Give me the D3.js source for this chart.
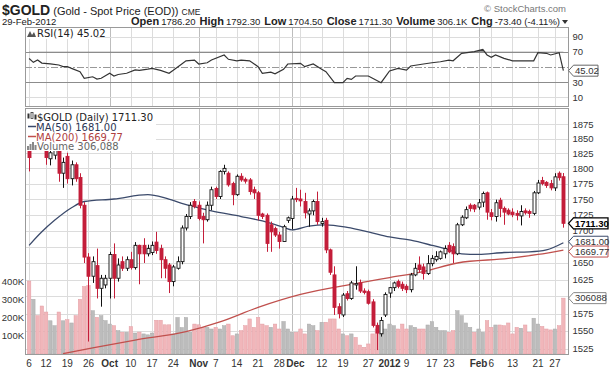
<!DOCTYPE html>
<html><head><meta charset="utf-8">
<script src="https://cdn.jsdelivr.net/npm/d3@7"></script>
<style>body{margin:0;background:#fff}svg{display:block}</style>
</head><body><svg id="c" width="610" height="370"></svg>
<script>
// ---------------- DATA ----------------
const dates = ["2011-09-06","2011-09-07","2011-09-08","2011-09-09","2011-09-12","2011-09-13","2011-09-14","2011-09-15","2011-09-16","2011-09-19","2011-09-20","2011-09-21","2011-09-22","2011-09-23","2011-09-26","2011-09-27","2011-09-28","2011-09-29","2011-09-30",
"2011-10-03","2011-10-04","2011-10-05","2011-10-06","2011-10-07","2011-10-10","2011-10-11","2011-10-12","2011-10-13","2011-10-14","2011-10-17","2011-10-18","2011-10-19","2011-10-20","2011-10-21","2011-10-24","2011-10-25","2011-10-26","2011-10-27","2011-10-28","2011-10-31",
"2011-11-01","2011-11-02","2011-11-03","2011-11-04","2011-11-07","2011-11-08","2011-11-09","2011-11-10","2011-11-11","2011-11-14","2011-11-15","2011-11-16","2011-11-17","2011-11-18","2011-11-21","2011-11-22","2011-11-23","2011-11-24","2011-11-25","2011-11-28","2011-11-29","2011-11-30",
"2011-12-01","2011-12-02","2011-12-05","2011-12-06","2011-12-07","2011-12-08","2011-12-09","2011-12-12","2011-12-13","2011-12-14","2011-12-15","2011-12-16","2011-12-19","2011-12-20","2011-12-21","2011-12-22","2011-12-23","2011-12-26","2011-12-27","2011-12-28","2011-12-29","2011-12-30",
"2012-01-02","2012-01-03","2012-01-04","2012-01-05","2012-01-06","2012-01-09","2012-01-10","2012-01-11","2012-01-12","2012-01-13","2012-01-16","2012-01-17","2012-01-18","2012-01-19","2012-01-20","2012-01-23","2012-01-24","2012-01-25","2012-01-26","2012-01-27","2012-01-30","2012-01-31",
"2012-02-01","2012-02-02","2012-02-03","2012-02-06","2012-02-07","2012-02-08","2012-02-09","2012-02-10","2012-02-13","2012-02-14","2012-02-15","2012-02-16","2012-02-17","2012-02-20","2012-02-21","2012-02-22","2012-02-23","2012-02-24","2012-02-27","2012-02-28","2012-02-29"];

const open = [1870,1835,1860,1855,1848,1816,1822,1830,1792,1820,1783,1806,1785,1740,1659,1630,1646,1612,1617,
1627,1663,1627,1652,1642,1655,1643,1677,1677,1664,1666,1682,1672,1655,1647,1622,1642,1652,1704,1722,1746,
1740,1722,1717,1740,1767,1754,1795,1792,1775,1757,1787,1782,1781,1765,1760,1726,1724,1709,1703,1693,1683,1716,
1719,1751,1750,1746,1726,1731,1746,1711,1716,1670,1632,1585,1573,1604,1597,1617,1620,1608,1607,1592,1558,1546,
1573,1605,1613,1622,1618,1615,1610,1632,1647,1644,1634,1649,1655,1657,1664,1677,1675,1664,1709,1720,1740,1740,
1737,1745,1760,1728,1722,1748,1735,1732,1729,1727,1723,1731,1730,1727,1760,1780,1777,1775,1768,1792,1786.2];
const high = [1900,1868,1880,1865,1858,1840,1845,1836,1818,1826,1813,1810,1792,1745,1665,1660,1672,1632,1632,
1667,1680,1657,1660,1660,1667,1682,1678,1688,1678,1683,1698,1678,1660,1650,1647,1660,1708,1726,1745,1750,
1746,1728,1746,1770,1770,1797,1806,1795,1778,1790,1792,1785,1784,1770,1763,1728,1727,1714,1706,1698,1709,1722,
1755,1768,1765,1760,1735,1749,1762,1720,1720,1672,1645,1590,1605,1608,1623,1645,1625,1612,1610,1596,1562,1570,
1606,1614,1622,1625,1622,1618,1635,1650,1660,1649,1662,1662,1668,1669,1677,1682,1680,1712,1724,1738,1743,1742,
1750,1762,1762,1734,1749,1752,1738,1735,1735,1732,1740,1735,1733,1763,1781,1786,1779,1781,1792,1795,1792.3];
const low = [1795,1833,1838,1835,1806,1805,1815,1778,1768,1775,1772,1778,1735,1650,1535,1620,1597,1585,1612,
1597,1597,1622,1638,1638,1640,1640,1618,1650,1660,1662,1664,1627,1627,1605,1615,1640,1648,1700,1718,1735,
1716,1680,1714,1732,1750,1750,1790,1770,1740,1755,1778,1775,1757,1750,1716,1718,1667,1667,1690,1672,1683,1712,
1702,1745,1738,1719,1706,1724,1709,1706,1665,1632,1573,1568,1570,1594,1595,1610,1605,1603,1588,1555,1523,1542,
1570,1598,1608,1612,1608,1605,1606,1630,1635,1625,1632,1645,1652,1655,1657,1665,1650,1662,1707,1718,1730,1729,
1733,1737,1717,1716,1714,1721,1709,1724,1721,1716,1708,1725,1720,1724,1758,1772,1768,1764,1763,1780,1704.5];
const close = [1818,1860,1855,1845,1818,1826,1832,1792,1810,1783,1806,1783,1740,1659,1630,1652,1612,1627,1627,
1663,1627,1647,1642,1655,1643,1677,1664,1664,1672,1677,1669,1655,1642,1622,1644,1652,1704,1722,1740,1738,
1719,1717,1740,1765,1754,1795,1800,1773,1757,1787,1781,1779,1762,1760,1724,1722,1680,1698,1693,1683,1706,1720,
1750,1749,1747,1728,1731,1746,1714,1714,1670,1636,1584,1575,1602,1597,1620,1619,1608,1606,1590,1558,1547,1565,
1603,1613,1620,1615,1612,1610,1632,1642,1640,1634,1649,1657,1660,1667,1672,1667,1664,1709,1721,1733,1735,1734,
1744,1759,1729,1722,1744,1735,1729,1726,1725,1724,1730,1728,1727,1760,1776,1775,1772,1768,1786,1784.7,1711.3];
// volume in thousands
const volumeK = [400,300,210,263,230,182,155,230,182,188,170,210,300,370,375,
237,201,210,183,164,155,128,119,119,150,115,120,110,105,115,185,185,160,160,110,200,145,200,
119,164,160,146,146,137,146,137,155,164,100,110,128,155,192,146,201,164,155,146,164,137,178,137,119,119,137,110,164,155,128,174,174,192,192,137,110,100,110,91,49,37,55,110,137,110,137,164,155,137,
164,137,155,146,137,137,159,177,146,128,128,119,128,237,210,170,146,119,137,119,183,146,159,159,155,170,110,146,141,159,119,196,164,151,137,132,137,155,306.088];

const ma50Idx = [0,3,6,10,13,20,28,32,36,43,50,55,60,62,66,70,75,80,85,90,95,99,102,106,112,118,122,126];
const ma50Val = [1677,1698,1716,1736,1746,1750,1757,1752,1743,1731,1722,1715,1705,1701,1707,1709,1705,1698,1690,1685,1677,1670,1664,1663,1666,1667,1670,1681];
const ma200Idx = [8,15,25,37,45,54,64,77,85,93,101,113,120,126];
const ma200Val = [1518,1526,1537,1549,1563,1584,1603,1619,1628,1637,1650,1657,1663,1669.77];

const rsiIdx = [0,1,2,3,5,7,8,9,10,12,13,15,16,17,19,20,21,23,25,26,28,29,31,33,34,36,37,39,40,42,43,46,47,49,50,52,54,55,57,58,60,61,64,65,67,69,70,72,74,75,76,77,80,81,83,84,85,87,89,90,93,95,97,99,100,102,105,107,108,109,110,112,114,117,119,120,122,123,125,126];
const rsiVal = [61,56,59,55,54,52.5,50.3,50.5,48,43.7,35,37,34,35,41.6,38,40,41.6,46,45.5,47,48,45.5,41.6,45.5,53.8,58,59,53.8,55.5,59,65.7,60,58,59,58,50.3,41.6,43,40.8,46.8,53.8,54.7,50.3,53.8,46.8,43.7,29.2,29.2,35,33.6,38,38,35,29.2,37,44.6,48,45.8,51.2,53.8,55.5,56.8,59,58,67.9,70,73,65.7,62.6,65.7,61.3,58,58,58,68.7,67.9,65.7,68.7,45.02];

const priceTicks = [1525,1550,1575,1600,1625,1650,1675,1700,1725,1750,1775,1800,1825,1850,1875];
const rsiTicks = [90,70,50,30,10];
const volTicks = [100,200,300,400];
const volTickLabels = ["100K","200K","300K","400K"];
const dateTicks = ["2011-09-06","2011-09-12","2011-09-19","2011-09-26","2011-10-03","2011-10-10","2011-10-17","2011-10-24","2011-11-01","2011-11-07","2011-11-14","2011-11-21","2011-11-28","2011-12-01","2011-12-12","2011-12-19","2011-12-27","2012-01-03","2012-01-09","2012-01-17","2012-01-23","2012-02-01","2012-02-06","2012-02-13","2012-02-21","2012-02-27"];
const dateTickLabels = ["6","12","19","26","Oct","10","17","24","Nov","7","14","21","28","Dec","12","19","27","2012","9","17","23","Feb","6","13","21","27"];
const gridOnlyDates = ["2011-12-05"];

// ---------------- LAYOUT ----------------
const svg = d3.select("#c");
const PL = 25, PR = 568;
const RT = 27, RB = 106, PT = 108, PB = 354;
const RED = "#c41e3a";
const AX = "Liberation Sans, Arial, sans-serif";
const LG = "DejaVu Sans, Verdana, sans-serif";

const x = d3.scaleBand().domain(dates).range([27, 565.5]);
const cx = d => x(d) + x.bandwidth() / 2;
const y = d3.scaleLog().domain([1517.5, 1902.8]).range([PB, PT]);
const yR = d3.scaleLinear().domain([0, 100]).range([104.9, 28.9]);
const yV = d3.scaleLinear().domain([0, 400]).range([PB, 281]);

const defs = svg.append("defs");
defs.append("clipPath").attr("id", "pc").append("rect").attr("x", PL).attr("y", PT).attr("width", PR - PL).attr("height", PB - PT);
defs.append("clipPath").attr("id", "rc").append("rect").attr("x", PL).attr("y", RT).attr("width", PR - PL).attr("height", RB - RT);
defs.append("clipPath").attr("id", "ob").append("rect").attr("x", PL).attr("y", RT).attr("width", PR - PL).attr("height", yR(70) - RT);
defs.append("clipPath").attr("id", "os").append("rect").attr("x", PL).attr("y", yR(30)).attr("width", PR - PL).attr("height", RB - yR(30));

// ---------------- GRID ----------------
const grid = svg.append("g");
const monthLbl = l => isNaN(+l) || l.length === 4;
const vlines = dateTicks.map((d, k) => ({ d, strong: monthLbl(dateTickLabels[k]) })).concat(gridOnlyDates.map(d => ({ d, strong: false })));
[[RT, RB], [PT, PB]].forEach(([t, b]) => {
  grid.selectAll(null).data(vlines).join("line")
    .attr("x1", v => Math.round(cx(v.d)) + 0.5).attr("x2", v => Math.round(cx(v.d)) + 0.5)
    .attr("y1", t).attr("y2", b)
    .attr("stroke", v => v.strong ? "#bdbdbd" : "#dcdcdc").attr("stroke-width", 1);
});
grid.selectAll(null).data(priceTicks).join("line")
  .attr("x1", PL).attr("x2", PR).attr("y1", t => Math.round(y(t)) + 0.5).attr("y2", t => Math.round(y(t)) + 0.5)
  .attr("stroke", "#dcdcdc");
grid.selectAll(null).data([90, 10]).join("line")
  .attr("x1", PL).attr("x2", PR).attr("y1", t => Math.round(yR(t)) + 0.5).attr("y2", t => Math.round(yR(t)) + 0.5)
  .attr("stroke", "#dcdcdc");
grid.selectAll(null).data([70, 30]).join("line")
  .attr("x1", PL).attr("x2", PR).attr("y1", t => Math.round(yR(t)) + 0.5).attr("y2", t => Math.round(yR(t)) + 0.5)
  .attr("stroke", "#8c8c8c");
grid.append("line").attr("x1", PL).attr("x2", PR).attr("y1", Math.round(yR(50)) + 0.5).attr("y2", Math.round(yR(50)) + 0.5)
  .attr("stroke", "#999").attr("stroke-dasharray", "7,2,2,2");

// ---------------- RSI ----------------
const rsiG = svg.append("g").attr("clip-path", "url(#rc)");
const rsiPts = rsiIdx.map((i, k) => [cx(dates[i]), yR(rsiVal[k])]);
const area70 = d3.area().x(p => p[0]).y0(yR(70)).y1(p => p[1]);
const area30 = d3.area().x(p => p[0]).y0(yR(30)).y1(p => p[1]);
rsiG.append("path").attr("d", area70(rsiPts)).attr("fill", "#444").attr("clip-path", "url(#ob)");
rsiG.append("path").attr("d", area30(rsiPts)).attr("fill", "#444").attr("clip-path", "url(#os)");
rsiG.append("path").attr("d", d3.line()(rsiPts)).attr("fill", "none").attr("stroke", "#333").attr("stroke-width", 1.2);

// ---------------- PRICE PANEL ----------------
const rows = dates.map((d, i) => ({ d, o: open[i], h: high[i], l: low[i], c: close[i], v: volumeK[i], pc: i ? close[i - 1] : open[i] }));
const pg = svg.append("g").attr("clip-path", "url(#pc)");
pg.selectAll("rect.vol").data(rows).join("rect").attr("class", "vol")
  .attr("x", r => x(r.d) + 0.4).attr("width", x.bandwidth() - 0.8)
  .attr("y", r => yV(r.v)).attr("height", r => PB - yV(r.v))
  .attr("fill", r => r.c < r.pc ? "#f1b6ba" : "#bcbcbc")
  .attr("stroke", r => r.c < r.pc ? "#e39ea4" : "#a9a9a9").attr("stroke-width", 0.5);
const maLine = (idx, val) => d3.line().curve(d3.curveMonotoneX)(idx.map((i, k) => [cx(dates[i]), y(val[k])]));
pg.append("path").attr("d", maLine(ma200Idx, ma200Val)).attr("fill", "none").attr("stroke", "#c0504d").attr("stroke-width", 1.3);
pg.append("path").attr("d", maLine(ma50Idx, ma50Val)).attr("fill", "none").attr("stroke", "#3b4a6b").attr("stroke-width", 1.3);
const bw = 3;
pg.selectAll("line.wick").data(rows).join("line").attr("class", "wick")
  .attr("x1", r => Math.round(cx(r.d)) + 0.5).attr("x2", r => Math.round(cx(r.d)) + 0.5)
  .attr("y1", r => y(r.h)).attr("y2", r => y(r.l))
  .attr("stroke", r => r.c < r.o ? RED : "#111").attr("stroke-width", 1);
pg.selectAll("rect.body").data(rows).join("rect").attr("class", "body")
  .attr("x", r => Math.round(cx(r.d)) + 0.5 - bw / 2).attr("width", bw)
  .attr("y", r => y(Math.max(r.o, r.c))).attr("height", r => Math.max(1, Math.abs(y(r.o) - y(r.c))))
  .attr("fill", r => r.c < r.o ? RED : "#fff")
  .attr("stroke", r => r.c < r.o ? RED : "#111").attr("stroke-width", 0.9);

// ---------------- LEGENDS ----------------
svg.append("rect").attr("x", PL + 1).attr("y", PT + 1).attr("width", 130).attr("height", 42).attr("fill", "#fff");
const lg = svg.append("g").attr("font-family", LG).attr("font-size", 10);
const ic = lg.append("g").attr("transform", "translate(27,112)");
ic.append("rect").attr("x", 0.5).attr("y", 1.5).attr("width", 2).attr("height", 5).attr("fill", "#333");
ic.append("rect").attr("x", 4).attr("y", 0.5).attr("width", 2).attr("height", 6).attr("fill", "#fff").attr("stroke", "#333").attr("stroke-width", 0.8);
ic.append("rect").attr("x", 7.5).attr("y", 2.5).attr("width", 2).attr("height", 5).attr("fill", "#333");
lg.append("text").attr("x", 37).attr("y", 120.5).attr("fill", "#222").text("$GOLD (Daily) 1711.30");
lg.append("line").attr("x1", 28).attr("x2", 36).attr("y1", 126.5).attr("y2", 126.5).attr("stroke", "#3b4a6b").attr("stroke-width", 1.5);
lg.append("text").attr("x", 36).attr("y", 130.5).attr("fill", "#2b3655").text("MA(50) 1681.00");
lg.append("line").attr("x1", 28).attr("x2", 36).attr("y1", 136.5).attr("y2", 136.5).attr("stroke", "#c0504d").attr("stroke-width", 1.5);
lg.append("text").attr("x", 36).attr("y", 140.5).attr("fill", "#b04040").text("MA(200) 1669.77");
const vi = lg.append("g").attr("transform", "translate(27,142)");
[[0, 4], [2.5, 2], [5, 0], [7.5, 3]].forEach(([a, b]) => vi.append("rect").attr("x", a).attr("y", b).attr("width", 2).attr("height", 8 - b).attr("fill", "#888"));
lg.append("text").attr("x", 37).attr("y", 149.5).attr("fill", "#666").text("Volume 306,088");

svg.append("rect").attr("x", PL + 1).attr("y", RT + 1).attr("width", 70).attr("height", 11).attr("fill", "#fff");
const ri = svg.append("g").attr("transform", "translate(27,30)");
ri.append("path").attr("d", "M0,7 L3,1 L5,5 L7,2 L9,7 Z").attr("fill", "#555");
svg.append("text").attr("x", 37).attr("y", 37).attr("font-family", LG).attr("font-size", 10).attr("fill", "#222").text("RSI(14) 45.02");

// ---------------- PANEL BORDERS ----------------
svg.append("rect").attr("x", PL + 0.5).attr("y", RT + 0.5).attr("width", PR - PL).attr("height", RB - RT).attr("fill", "none").attr("stroke", "#9a9a9a");
svg.append("rect").attr("x", PL + 0.5).attr("y", PT + 0.5).attr("width", PR - PL).attr("height", PB - PT).attr("fill", "none").attr("stroke", "#9a9a9a");

// ---------------- TAG POSITIONS ----------------
const tagsPrice = [y(close[close.length - 1]), y(ma50Val[ma50Val.length - 1]) - 1, y(ma200Val[ma200Val.length - 1]) + 1.5, yV(volumeK[volumeK.length - 1])];
const tagsRsi = [yR(rsiVal[rsiVal.length - 1])];
const freeOf = (yy, list) => list.every(t => Math.abs(t - yy) > 6.5);

// ---------------- AXES ----------------
const ax = svg.append("g").attr("font-family", AX).attr("fill", "#333");
ax.selectAll(null).data(priceTicks.filter(t => freeOf(y(t), tagsPrice))).join("text")
  .attr("x", PR + 4.5).attr("y", t => y(t) + 3.5).attr("font-size", 9.5).text(t => t);
ax.selectAll(null).data(rsiTicks.filter(t => freeOf(yR(t), tagsRsi))).join("text")
  .attr("x", PR + 4.5).attr("y", t => yR(t) + 3.5).attr("font-size", 9.5).text(t => t);
ax.selectAll(null).data(volTicks).join("text")
  .attr("x", 24).attr("y", t => yV(t) + 3.5).attr("text-anchor", "end").attr("font-size", 9.5).text((t, k) => volTickLabels[k]);
const dl = ax.selectAll(null).data(dateTicks).join("text")
  .attr("x", d => cx(d)).attr("y", 367).attr("text-anchor", "middle").attr("font-size", 10)
  .attr("font-weight", (d, k) => monthLbl(dateTickLabels[k]) ? "bold" : "normal")
  .text((d, k) => dateTickLabels[k]);
// nudge labels that would touch their left neighbour
let prevRight = -Infinity;
dl.each(function () {
  const bb = this.getBBox();
  let shift = 0;
  if (bb.x < prevRight + 1) shift = prevRight + 1 - bb.x;
  if (shift) d3.select(this).attr("x", +d3.select(this).attr("x") + shift);
  prevRight = bb.x + bb.width + shift;
});

// ---------------- TAGS ----------------
function tag(yy, txt, stroke, bold, w) {
  const g = svg.append("g");
  g.append("path").attr("d", `M${PR + 0.5},${yy} L${PR + 5.5},${yy - 5.5} H${PR + w} V${yy + 5.5} H${PR + 5.5} Z`)
    .attr("fill", "#fff").attr("stroke", stroke).attr("stroke-width", bold ? 1.3 : 1);
  g.append("text").attr("x", PR + 7).attr("y", yy + 3.3).attr("font-family", AX).attr("font-size", 9.5)
    .attr("font-weight", bold ? "bold" : "normal").attr("fill", bold ? "#000" : "#333").text(txt);
}
tag(tagsRsi[0], "45.02", "#666", false, 30);
tag(tagsPrice[0], "1711.30", "#000", true, 40);
tag(tagsPrice[1], "1681.00", "#3b4a6b", false, 40);
tag(tagsPrice[2], "1669.77", "#c0504d", false, 40);
tag(tagsPrice[3], "306088", "#888", false, 38);

// ---------------- HEADER ----------------
const hd = svg.append("g").attr("font-family", AX).attr("fill", "#222");
const t1 = hd.append("text").attr("x", 2).attr("y", 14.5);
t1.append("tspan").attr("font-size", 14).attr("font-weight", "bold").text("$GOLD");
t1.append("tspan").attr("font-size", 11).attr("dx", 3).text("(Gold - Spot Price (EOD))");
t1.append("tspan").attr("font-size", 8.5).attr("dx", 3).text("CME");
hd.append("text").attr("x", 566).attr("y", 12).attr("text-anchor", "end").attr("font-size", 9.5).attr("fill", "#777").text("© StockCharts.com");
hd.append("text").attr("x", 2).attr("y", 25).attr("font-size", 9.5).text("29-Feb-2012");
const t2 = hd.append("text").attr("x", 560).attr("y", 25).attr("text-anchor", "end");
[["Open", "1786.20"], ["High", "1792.30"], ["Low", "1704.50"], ["Close", "1711.30"], ["Volume", "306.1K"], ["Chg", "-73.40 (-4.11%)"]].forEach(([a, b], k) => {
  t2.append("tspan").attr("font-size", 11).attr("font-weight", "bold").attr("dx", k ? 4 : 0).text(a);
  t2.append("tspan").attr("font-size", 9.5).attr("dx", 2).text(b);
});
hd.append("path").attr("d", "M562,20 L568,20 L565,24 Z").attr("fill", "#333");
</script></body></html>
